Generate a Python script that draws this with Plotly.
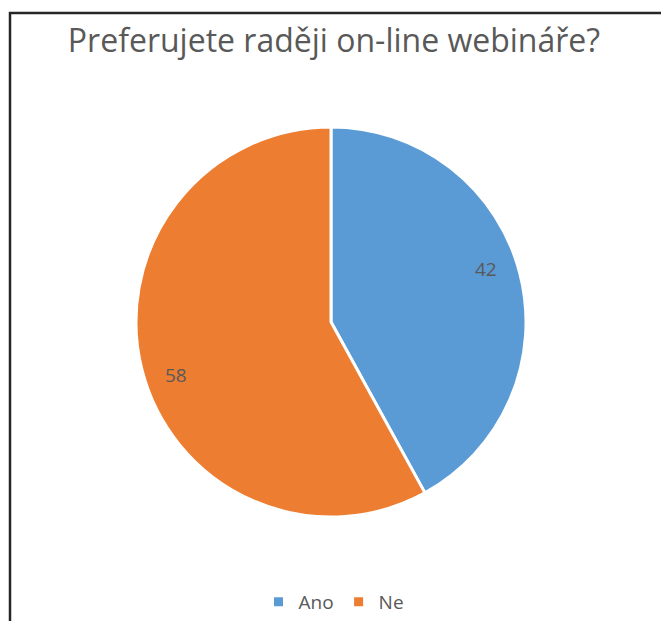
import math
import plotly.graph_objects as go

labels = ["Ano", "Ne"]
values = [42, 58]
colors = ["#5B9BD5", "#ED7D31"]
title_text = "Preferujete raději on-line webináře?"

# page body has an 8px margin; work in target-window pixels and shift
OFF = 8
W, H = 669 - OFF, 621 - OFF
cx, cy, R = 331 - OFF, 322 - OFF, 195
dom_x = [(cx - R) / W, (cx + R) / W]
dom_y = [(H - cy - R) / H, (H - cy + R) / H]

FONT = "Open Sans"
GRAY = "#595959"

fig = go.Figure(go.Pie(
    labels=labels, values=values, sort=False, direction="clockwise", rotation=0,
    marker=dict(colors=colors, line=dict(color="white", width=3)),
    textinfo="none", hoverinfo="label+value",
    domain=dict(x=dom_x, y=dom_y),
))

# value labels placed near each slice's mid-angle
annotations = []
total = sum(values)
acc = 0
for v in values:
    mid = (acc + v / 2) / total * 2 * math.pi - math.radians(4.3)
    acc += v
    r = 0.84 * R
    px = cx + r * math.sin(mid)
    py = cy - r * math.cos(mid)
    annotations.append(dict(x=px / W, y=1 - py / H, xref="paper", yref="paper",
                            text=str(v), showarrow=False, xanchor="center", yanchor="middle",
                            font=dict(family=FONT, size=19, color=GRAY)))

fig.update_layout(
    width=W, height=H, margin=dict(l=0, r=0, t=0, b=0),
    paper_bgcolor="white", plot_bgcolor="white",
    font=dict(family=FONT, color=GRAY),
    title=dict(text=title_text, x=(334 - OFF) / W, xanchor="center",
               y=1 - (41 - OFF) / H, yanchor="middle", yref="paper",
               font=dict(family=FONT, size=32, color=GRAY)),
    legend=dict(orientation="h", x=(334 - OFF) / W, xanchor="center",
                y=1 - (602 - OFF) / H, yanchor="middle",
                font=dict(family=FONT, size=19, color=GRAY), itemwidth=30),
    annotations=annotations,
    shapes=[dict(type="rect", xref="paper", yref="paper",
                 x0=(10 - OFF) / W, x1=1.05, y0=-0.05, y1=1 - (13 - OFF) / H,
                 line=dict(color="#262626", width=2.5), fillcolor="rgba(0,0,0,0)")],
)

fig.write_html("out.html")
